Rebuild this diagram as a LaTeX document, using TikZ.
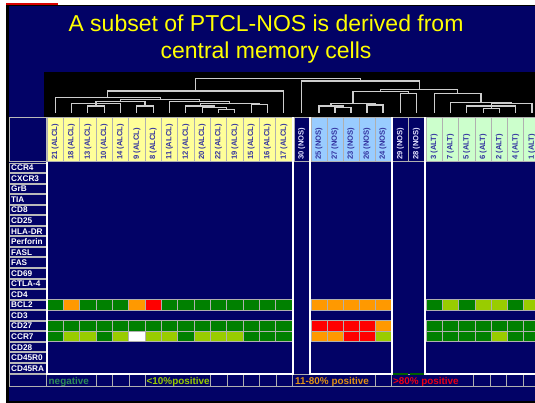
\documentclass[tikz,border=0pt]{standalone}
\usepackage{fontspec}
\setmainfont{Liberation Sans}
\definecolor{navy}{RGB}{2,2,102}
\definecolor{hyel}{RGB}{255,255,153}
\definecolor{hblu}{RGB}{153,204,255}
\definecolor{hgrn}{RGB}{204,255,204}
\definecolor{cG}{RGB}{0,128,0}
\definecolor{cY}{RGB}{153,204,0}
\definecolor{cO}{RGB}{255,153,0}
\definecolor{cR}{RGB}{255,0,0}
\definecolor{cW}{RGB}{255,255,255}
\definecolor{htxt}{RGB}{51,51,160}
\definecolor{ntxt}{RGB}{225,225,255}
\definecolor{gridg}{RGB}{176,176,176}
\definecolor{dend}{RGB}{205,205,205}
\definecolor{ttl}{RGB}{255,255,0}
\definecolor{legneg}{RGB}{46,139,87}
\definecolor{legorg}{RGB}{225,145,20}
\definecolor{legred}{RGB}{235,0,20}
\definecolor{dkgrn}{RGB}{0,96,0}
\newcommand{\dU}[5]{\draw[dendro] (#1,#2) -- (#1,#5) -- (#3,#5) -- (#3,#4);}
\tikzset{
  dendro/.style={draw=dend, line width=1.1pt},
  hcell/.style={draw=gridg, line width=0.7pt},
  htext/.style={rotate=90, anchor=west, inner sep=0pt, font=\fontsize{7.6}{8}\selectfont\bfseries},
  lbox/.style={draw=gray!55, fill=navy, line width=0.9pt},
  ltext/.style={anchor=west, inner sep=0pt, text=white, font=\fontsize{8.2}{9}\selectfont\bfseries},
  dcell/.style={draw=gridg, line width=0.8pt},
  wline/.style={draw=white, line width=1.7pt},
  legtext/.style={anchor=base west, inner sep=0pt, font=\fontsize{9.9}{11}\selectfont\bfseries},
  titletext/.style={anchor=base, inner sep=0pt, text=ttl, font=\fontsize{23}{27}\selectfont}
}
\begin{document}
\begin{tikzpicture}[x=1pt,y=-1pt]
\useasboundingbox (0,0) rectangle (535,403);
\begin{scope}
\clip (0,0) rectangle (535,403);
\fill[white] (0,0) rectangle (535,403);
\fill[red!85!black] (6,3.2) rectangle (58,5);
\fill[black] (6,5.5) rectangle (535,403);
\fill[navy] (8.5,6) rectangle (535,401);

% title
\node[titletext] (t1) at (266,32) {A subset of PTCL-NOS is derived from};
\node[titletext] (t2) at (266,59) {central memory cells};

% dendrogram
\fill[black] (44,72) rectangle (535,117);
\dU{87.83}{113}{104.17}{113}{106}
\dU{71.5}{113}{120.5}{113}{103.5}
\draw[dendro] (96,106) -- (96,103.5);
\dU{136.83}{113}{153.17}{113}{106}
\dU{96}{103.5}{145}{106}{101.7}
\dU{218.5}{113}{234.83}{113}{109.5}
\dU{202.17}{113}{226.67}{109.5}{107.7}
\dU{185.83}{113}{214.42}{107.7}{106}
\dU{251.17}{113}{267.5}{113}{104.5}
\dU{200.13}{106}{259.33}{104.5}{103.2}
\dU{169.5}{113}{229.73}{103.2}{101.7}
\dU{120.5}{101.7}{199.62}{101.7}{99.8}
\dU{55.17}{113}{160.06}{99.8}{97.7}
\dU{107.6}{97.7}{283.83}{113}{91}
\dU{335}{113}{351}{113}{107.3}
\dU{319}{113}{343}{107.3}{106}
\dU{367}{113}{383}{113}{105}
\dU{331}{106}{375}{105}{103.3}
\dU{400.5}{113}{416.5}{113}{93.3}
\dU{353}{103.3}{408.5}{93.3}{91.7}
\dU{483.05}{113}{499.35}{113}{108.7}
\dU{466.75}{113}{515.65}{113}{106}
\draw[dendro] (491.2,108.7) -- (491.2,106);
\dU{491.2}{106}{531.95}{113}{103.7}
\dU{450.45}{113}{511.58}{103.7}{102.3}
\dU{434.15}{113}{481}{102.3}{93.3}
\dU{380.75}{91.7}{457.6}{93.3}{89.3}
\dU{301.75}{113}{419.2}{89.3}{81}
\dU{195.7}{91}{360.5}{81}{78.3}

% header
\draw[lbox] (9,117.5) rectangle (46,161.2);
\foreach \t [count=\i from 0] in {21,18,13,10,14,9,8,11,12,20,22,19,15,16,17}{
  \draw[hcell, fill=hyel] ({47+16.333*\i},117.5) rectangle ++(16.333,44.2);
  \node[htext, text=htxt] (hy\i) at ({55.17+16.333*\i},160) {\t\ (ALCL)};
}
\draw[hcell, fill=navy] (294,117.5) rectangle (309.5,161.7);
\node[htext, text=ntxt] (hn30) at (301.75,160) {30 (NOS)};
\foreach \t [count=\i from 0] in {25,27,23,26,24}{
  \draw[hcell, fill=hblu] ({311+16*\i},117.5) rectangle ++(16,44.2);
  \node[htext, text=htxt] (hb\i) at ({319+16*\i},160) {\t\ (NOS)};
}
\foreach \t [count=\i from 0] in {29,28}{
  \draw[hcell, fill=navy] ({392.5+16*\i},117.5) rectangle ++(16,44.2);
  \node[htext, text=ntxt] (hm\i) at ({400.5+16*\i},160) {\t\ (NOS)};
}
\foreach \t [count=\i from 0] in {3,7,5,6,2,4,1}{
  \draw[hcell, fill=hgrn] ({426+16.3*\i},117.5) rectangle ++(16.3,44.2);
  \node[htext, text=htxt] (hg\i) at ({434.15+16.3*\i},160) {\t\ (ALT)};
}

% row labels
\foreach \t [count=\i from 0] in {CCR4,CXCR3,GrB,TIA,CD8,CD25,HLA-DR,Perforin,FASL,FAS,CD69,CTLA-4,CD4,BCL2,CD3,CD27,CCR7,CD28,CD45R0,CD45RA}{
  \draw[lbox] (9,{163+10.55*\i}) rectangle (46,{172.55+10.55*\i});
  \node[ltext] (r\i) at (11,{167.9+10.55*\i}) {\t};
}

% coloured cells: yellow block
\foreach \c [count=\i from 0] in {cG,cO,cG,cG,cG,cO,cR,cG,cG,cG,cG,cG,cG,cG,cG}
  \draw[dcell, fill=\c] ({47+16.333*\i},299.65) rectangle ++(16.333,10.55);
\foreach \c [count=\i from 0] in {cG,cG,cG,cG,cG,cG,cG,cG,cG,cG,cG,cG,cG,cG,cG}
  \draw[dcell, fill=\c] ({47+16.333*\i},320.75) rectangle ++(16.333,10.55);
\foreach \c [count=\i from 0] in {cG,cY,cY,cG,cY,cW,cY,cY,cG,cY,cY,cY,cG,cG,cG}
  \draw[dcell, fill=\c] ({47+16.333*\i},331.3) rectangle ++(16.333,10.55);
% blue block
\foreach \c [count=\i from 0] in {cO,cO,cO,cO,cO}
  \draw[dcell, fill=\c] ({311+16*\i},299.65) rectangle ++(16,10.55);
\foreach \c [count=\i from 0] in {cR,cR,cR,cR,cO}
  \draw[dcell, fill=\c] ({311+16*\i},320.75) rectangle ++(16,10.55);
\foreach \c [count=\i from 0] in {cO,cO,cR,cR,cY}
  \draw[dcell, fill=\c] ({311+16*\i},331.3) rectangle ++(16,10.55);
% green block
\foreach \c [count=\i from 0] in {cG,cY,cG,cY,cY,cG,cY}
  \draw[dcell, fill=\c] ({426+16.3*\i},299.65) rectangle ++(16.3,10.55);
\foreach \c [count=\i from 0] in {cG,cG,cG,cG,cG,cG,cG}
  \draw[dcell, fill=\c] ({426+16.3*\i},320.75) rectangle ++(16.3,10.55);
\foreach \c [count=\i from 0] in {cG,cG,cG,cG,cY,cG,cG}
  \draw[dcell, fill=\c] ({426+16.3*\i},331.3) rectangle ++(16.3,10.55);

% legend row
\draw[hcell] (9,374.7) -- (535,374.7);
\draw[hcell] (9,386.8) -- (535,386.8);
\foreach \x in {9,46.7,96.7,112.7,129,145.3,210.7,227,243.3,259.7,276,292.7,375.7,391.5,473.3,490,506.7,523.3}
  \draw[hcell] (\x,374.7) -- (\x,386.8);
\fill[dkgrn] (393,373) rectangle (407.5,374.8);
\fill[dkgrn] (409.5,373) rectangle (423.5,374.8);

% white separators
\draw[wline] (46.7,162) -- (46.7,373.7);
\draw[wline] (293,117.5) -- (293,373.7);
\draw[wline] (310.2,117.5) -- (310.2,373.7);
\draw[wline] (391.8,117.5) -- (391.8,373.7);
\draw[wline] (425.2,117.5) -- (425.2,373.7);
\draw[wline] (45.9,373.7) -- (293.8,373.7);
\draw[wline] (309.4,373.7) -- (392.6,373.7);
\draw[wline] (424.4,373.7) -- (535,373.7);

\node[legtext, text=legneg] (l1) at (48.5,384.5) {negative};
\node[legtext, text=cY] (l2) at (146.5,384.5) {<10\%positive};
\node[legtext, text=legorg] (l3) at (295,384.5) {11-80\% positive};
\node[legtext, text=legred] (l4) at (392.8,384.5) {>80\% positive};
\end{scope}
\end{tikzpicture}
\end{document}
